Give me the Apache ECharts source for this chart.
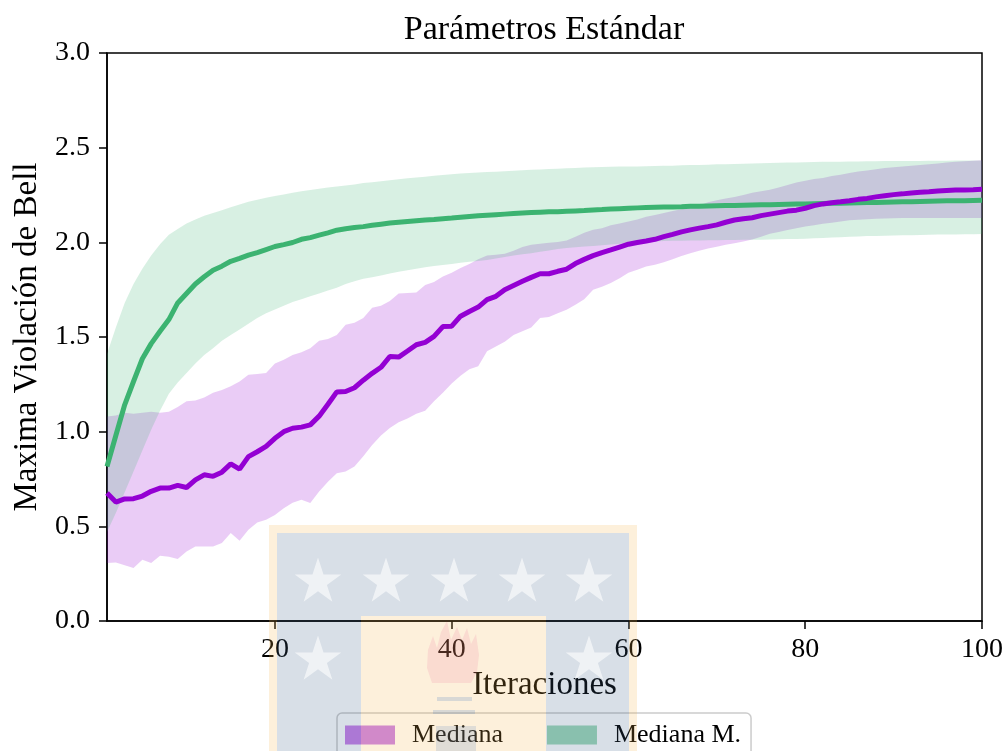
<!DOCTYPE html>
<html>
<head>
<meta charset="utf-8">
<script src="https://cdn.jsdelivr.net/npm/echarts@6/dist/echarts.min.js"></script>
<style>
  html, body { margin: 0; padding: 0; background: #ffffff; }
  #chart { width: 1005px; height: 751px; }
</style>
</head>
<body>
<div id="chart"></div>
<script>
// Iteration index (x axis categories)
const iterations = Array.from({ length: 100 }, (_, i) => i + 1);
const xTickValues = [20, 40, 60, 80, 100];

// Standard parameters: median and spread of the max Bell violation
const medianStd = [
  0.676, 0.628, 0.645, 0.646, 0.660, 0.685, 0.702, 0.702, 0.716, 0.705,
  0.745, 0.772, 0.764, 0.786, 0.830, 0.802, 0.868, 0.894, 0.922, 0.965,
  1.000, 1.018, 1.024, 1.036, 1.082, 1.145, 1.210, 1.212, 1.232, 1.272,
  1.308, 1.340, 1.397, 1.394, 1.426, 1.459, 1.472, 1.503, 1.555, 1.557,
  1.610, 1.635, 1.658, 1.697, 1.715, 1.750, 1.772, 1.794, 1.815, 1.834,
  1.834, 1.847, 1.858, 1.888, 1.910, 1.930, 1.946, 1.960, 1.975, 1.990,
  1.999, 2.007, 2.016, 2.030, 2.042, 2.055, 2.066, 2.075, 2.083, 2.092,
  2.106, 2.118, 2.125, 2.130, 2.141, 2.149, 2.157, 2.165, 2.170, 2.180,
  2.194, 2.203, 2.209, 2.214, 2.220, 2.227, 2.232, 2.240, 2.246, 2.252,
  2.256, 2.261, 2.264, 2.267, 2.271, 2.274, 2.276, 2.277, 2.278, 2.280
];
const lowStd = [
  0.306, 0.309, 0.295, 0.280, 0.324, 0.306, 0.345, 0.340, 0.327, 0.367,
  0.394, 0.394, 0.394, 0.412, 0.465, 0.424, 0.482, 0.520, 0.535, 0.560,
  0.595, 0.625, 0.640, 0.623, 0.684, 0.735, 0.780, 0.790, 0.816, 0.870,
  0.930, 0.980, 1.020, 1.050, 1.070, 1.095, 1.110, 1.160, 1.205, 1.255,
  1.295, 1.330, 1.345, 1.425, 1.450, 1.475, 1.510, 1.530, 1.550, 1.600,
  1.605, 1.625, 1.644, 1.670, 1.700, 1.750, 1.765, 1.785, 1.810, 1.840,
  1.855, 1.872, 1.882, 1.895, 1.910, 1.928, 1.942, 1.955, 1.967, 1.977,
  1.987, 1.995, 2.004, 2.015, 2.030, 2.045, 2.055, 2.065, 2.075, 2.083,
  2.090, 2.098, 2.104, 2.110, 2.116, 2.119, 2.122, 2.124, 2.126, 2.127,
  2.128, 2.128, 2.128, 2.128, 2.128, 2.128, 2.128, 2.128, 2.128, 2.129
];
const highStd = [
  1.080, 1.085, 1.100, 1.095, 1.100, 1.105, 1.100, 1.105, 1.130, 1.160,
  1.165, 1.180, 1.205, 1.220, 1.240, 1.265, 1.300, 1.305, 1.310, 1.360,
  1.380, 1.405, 1.420, 1.440, 1.480, 1.490, 1.510, 1.565, 1.575, 1.600,
  1.655, 1.665, 1.690, 1.730, 1.733, 1.735, 1.775, 1.790, 1.820, 1.840,
  1.865, 1.885, 1.910, 1.930, 1.935, 1.940, 1.955, 1.975, 1.987, 1.993,
  1.998, 2.002, 2.010, 2.030, 2.050, 2.066, 2.075, 2.090, 2.100, 2.110,
  2.120, 2.135, 2.145, 2.155, 2.165, 2.175, 2.183, 2.195, 2.212, 2.222,
  2.232, 2.240, 2.250, 2.262, 2.270, 2.278, 2.290, 2.303, 2.316, 2.325,
  2.335, 2.340, 2.350, 2.357, 2.366, 2.374, 2.380, 2.386, 2.392, 2.396,
  2.400, 2.404, 2.408, 2.412, 2.417, 2.421, 2.425, 2.428, 2.431, 2.434
];

// Modified parameters: median and spread
const medianMod = [
  0.816, 0.980, 1.142, 1.265, 1.385, 1.465, 1.530, 1.592, 1.680, 1.730,
  1.780, 1.818, 1.853, 1.874, 1.900, 1.915, 1.932, 1.946, 1.962, 1.978,
  1.988, 1.999, 2.016, 2.025, 2.038, 2.050, 2.064, 2.072, 2.078, 2.083,
  2.090, 2.096, 2.102, 2.106, 2.110, 2.114, 2.118, 2.121, 2.125, 2.128,
  2.132, 2.136, 2.140, 2.143, 2.146, 2.149, 2.152, 2.155, 2.157, 2.159,
  2.161, 2.162, 2.164, 2.166, 2.168, 2.171, 2.173, 2.176, 2.178, 2.180,
  2.182, 2.184, 2.185, 2.186, 2.187, 2.188, 2.190, 2.191, 2.192, 2.193,
  2.194, 2.195, 2.196, 2.197, 2.198, 2.199, 2.200, 2.201, 2.202, 2.203,
  2.204, 2.205, 2.206, 2.207, 2.208, 2.209, 2.210, 2.211, 2.212, 2.213,
  2.214, 2.215, 2.216, 2.217, 2.218, 2.219, 2.220, 2.220, 2.221, 2.222
];
const lowMod = [
  0.470, 0.570, 0.680, 0.790, 0.900, 1.010, 1.110, 1.200, 1.260, 1.310,
  1.360, 1.405, 1.440, 1.480, 1.510, 1.540, 1.570, 1.600, 1.625, 1.645,
  1.665, 1.685, 1.700, 1.715, 1.730, 1.745, 1.760, 1.780, 1.795, 1.808,
  1.815, 1.825, 1.835, 1.845, 1.853, 1.860, 1.868, 1.875, 1.880, 1.886,
  1.892, 1.897, 1.902, 1.907, 1.915, 1.922, 1.930, 1.937, 1.943, 1.950,
  1.957, 1.965, 1.970, 1.974, 1.978, 1.981, 1.984, 1.988, 1.992, 1.996,
  1.999, 2.002, 2.005, 2.007, 2.008, 2.009, 2.010, 2.010, 2.011, 2.011,
  2.012, 2.012, 2.013, 2.013, 2.014, 2.015, 2.016, 2.017, 2.018, 2.019,
  2.021, 2.023, 2.025, 2.027, 2.029, 2.031, 2.033, 2.034, 2.035, 2.036,
  2.037, 2.038, 2.039, 2.040, 2.041, 2.042, 2.042, 2.043, 2.043, 2.044
];
const highMod = [
  1.410, 1.550, 1.680, 1.780, 1.860, 1.930, 1.990, 2.040, 2.070, 2.100,
  2.120, 2.140, 2.155, 2.170, 2.185, 2.200, 2.215, 2.225, 2.235, 2.245,
  2.253, 2.262, 2.270, 2.276, 2.283, 2.290, 2.295, 2.300, 2.306, 2.313,
  2.318, 2.323, 2.328, 2.333, 2.338, 2.343, 2.347, 2.352, 2.356, 2.360,
  2.363, 2.366, 2.369, 2.371, 2.373, 2.376, 2.378, 2.381, 2.383, 2.385,
  2.387, 2.389, 2.391, 2.393, 2.395, 2.397, 2.398, 2.399, 2.400, 2.400,
  2.401, 2.402, 2.403, 2.404, 2.405, 2.407, 2.408, 2.409, 2.410, 2.412,
  2.413, 2.414, 2.415, 2.417, 2.418, 2.419, 2.420, 2.421, 2.422, 2.423,
  2.424, 2.425, 2.426, 2.426, 2.427, 2.427, 2.428, 2.428, 2.429, 2.429,
  2.430, 2.430, 2.430, 2.431, 2.431, 2.431, 2.432, 2.432, 2.432, 2.432
];

const FONT = 'Liberation Serif';
const PURPLE = '#9400d3';
const GREEN = '#3cb371';

// Band thickness for stacked areas (upper minus lower)
const spreadStd = highStd.map((v, i) => +(v - lowStd[i]).toFixed(3));
const spreadMod = highMod.map((v, i) => +(v - lowMod[i]).toFixed(3));

const isXTick = (idx, val) => xTickValues.includes(Number(val));

// Emblem overlay drawn semi-transparently across the lower middle
function starPoints(cx, cy, R) {
  const r = R * 0.382;
  const pts = [];
  for (let k = 0; k < 10; k++) {
    const a = -Math.PI / 2 + k * Math.PI / 5;
    const rad = k % 2 === 0 ? R : r;
    pts.push([cx + rad * Math.cos(a), cy + rad * Math.sin(a)]);
  }
  return pts;
}
const EMB_YELLOW = 'rgba(245,180,75,0.2)';
const EMB_BLUE = 'rgba(60,95,135,0.2)';
const EMB_STAR = 'rgba(255,255,255,0.6)';
const starCenters = [[318, 582], [386, 582], [454, 582], [522, 582], [589, 582], [318, 660], [589, 660]];
const emblem = [
  { type: 'rect', shape: { x: 269, y: 525, width: 8, height: 240 }, style: { fill: EMB_YELLOW } },
  { type: 'rect', shape: { x: 629, y: 525, width: 8, height: 240 }, style: { fill: EMB_YELLOW } },
  { type: 'rect', shape: { x: 277, y: 525, width: 352, height: 8 }, style: { fill: EMB_YELLOW } },
  { type: 'rect', shape: { x: 277, y: 533, width: 352, height: 83 }, style: { fill: EMB_BLUE } },
  { type: 'rect', shape: { x: 277, y: 616, width: 84, height: 150 }, style: { fill: EMB_BLUE } },
  { type: 'rect', shape: { x: 546, y: 616, width: 83, height: 150 }, style: { fill: EMB_BLUE } },
  { type: 'rect', shape: { x: 361, y: 616, width: 185, height: 150 }, style: { fill: EMB_YELLOW } },
  ...starCenters.map(c => ({ type: 'polygon', shape: { points: starPoints(c[0], c[1], 24.5) }, style: { fill: EMB_STAR } })),
  {
    type: 'polygon',
    shape: {
      points: [[432, 683], [427, 668], [428, 650], [433, 636], [437, 648], [441, 632], [447, 621],
               [451, 640], [457, 627], [462, 640], [467, 628], [471, 644], [476, 634], [479, 655],
               [477, 672], [471, 683]]
    },
    style: { fill: 'rgba(235,80,140,0.13)' }
  },
  { type: 'rect', shape: { x: 437, y: 697, width: 35, height: 4 }, style: { fill: 'rgba(70,120,190,0.2)' } },
  { type: 'rect', shape: { x: 433, y: 710, width: 42, height: 4 }, style: { fill: 'rgba(70,120,190,0.2)' } },
  { type: 'rect', shape: { x: 436, y: 726, width: 40, height: 30 }, style: { fill: 'rgba(70,120,190,0.16)' } }
].map(e => Object.assign(e, { z: 100, silent: true }));

const chart = echarts.init(document.getElementById('chart'), null, { renderer: 'canvas' });

chart.setOption({
  animation: false,
  backgroundColor: '#ffffff',
  title: {
    text: 'Parámetros Estándar',
    left: 539,
    top: 8,
    textAlign: 'center',
    textStyle: { fontFamily: FONT, fontSize: 34, fontWeight: 'normal', color: '#000' }
  },
  grid: {
    left: 107, right: 23, top: 53, bottom: 130,
    show: true, borderColor: '#000', borderWidth: 1.5,
    containLabel: false, outerBoundsMode: 'none'
  },
  legend: {
    left: 337, top: 713,
    orient: 'horizontal',
    selectedMode: false,
    data: [
      { name: 'Mediana', icon: 'rect', itemStyle: { color: 'rgba(148,0,211,0.5)' } },
      { name: 'Mediana M.', icon: 'rect', itemStyle: { color: 'rgba(60,179,113,0.5)' } }
    ],
    itemWidth: 50, itemHeight: 19, itemGap: 44,
    padding: [9, 10, 12, 8],
    backgroundColor: 'rgba(255,255,255,0.8)',
    borderColor: '#cccccc', borderWidth: 1.5, borderRadius: 5,
    textStyle: { fontFamily: FONT, fontSize: 26, color: '#000', padding: [0, 0, 0, 12] }
  },
  xAxis: {
    type: 'category',
    data: iterations,
    boundaryGap: false,
    name: 'Iteraciones',
    nameLocation: 'middle',
    nameGap: 48,
    nameTextStyle: { fontFamily: FONT, fontSize: 33, color: '#000' },
    axisLine: { lineStyle: { color: '#000', width: 1.5 } },
    axisTick: { interval: isXTick, length: 8, lineStyle: { color: '#000', width: 1.5 } },
    axisLabel: { interval: isXTick, margin: 15, fontFamily: FONT, fontSize: 28, color: '#000' },
    splitLine: { show: false }
  },
  yAxis: {
    type: 'value',
    min: 0, max: 3, interval: 0.5,
    name: 'Maxima Violación de Bell',
    nameLocation: 'middle',
    nameGap: 62,
    nameRotate: 90,
    nameTextStyle: { fontFamily: FONT, fontSize: 33, color: '#000' },
    axisLine: { show: true, lineStyle: { color: '#000', width: 1.5 } },
    axisTick: { show: true, length: 8, lineStyle: { color: '#000', width: 1.5 } },
    axisLabel: { margin: 17, fontFamily: FONT, fontSize: 28, color: '#000', formatter: v => v.toFixed(1) },
    splitLine: { show: false }
  },
  series: [
    {
      name: 'Mediana base', type: 'line', stack: 'std', data: lowStd,
      symbol: 'none', lineStyle: { opacity: 0 }, silent: true
    },
    {
      name: 'Mediana', type: 'line', stack: 'std', data: spreadStd,
      symbol: 'none', lineStyle: { opacity: 0 }, itemStyle: { color: PURPLE },
      areaStyle: { color: 'rgba(148,0,211,0.2)', opacity: 1 }, silent: true
    },
    {
      name: 'Mediana M. base', type: 'line', stack: 'mod', data: lowMod,
      symbol: 'none', lineStyle: { opacity: 0 }, silent: true
    },
    {
      name: 'Mediana M.', type: 'line', stack: 'mod', data: spreadMod,
      symbol: 'none', lineStyle: { opacity: 0 }, itemStyle: { color: GREEN },
      areaStyle: { color: 'rgba(60,179,113,0.2)', opacity: 1 }, silent: true
    },
    {
      name: 'Mediana línea M.', type: 'line', data: medianMod,
      symbol: 'none', lineStyle: { color: GREEN, width: 5 }, silent: true
    },
    {
      name: 'Mediana línea', type: 'line', data: medianStd,
      symbol: 'none', lineStyle: { color: PURPLE, width: 5 }, silent: true
    }
  ],
  graphic: { elements: emblem }
});
</script>
</body>
</html>
